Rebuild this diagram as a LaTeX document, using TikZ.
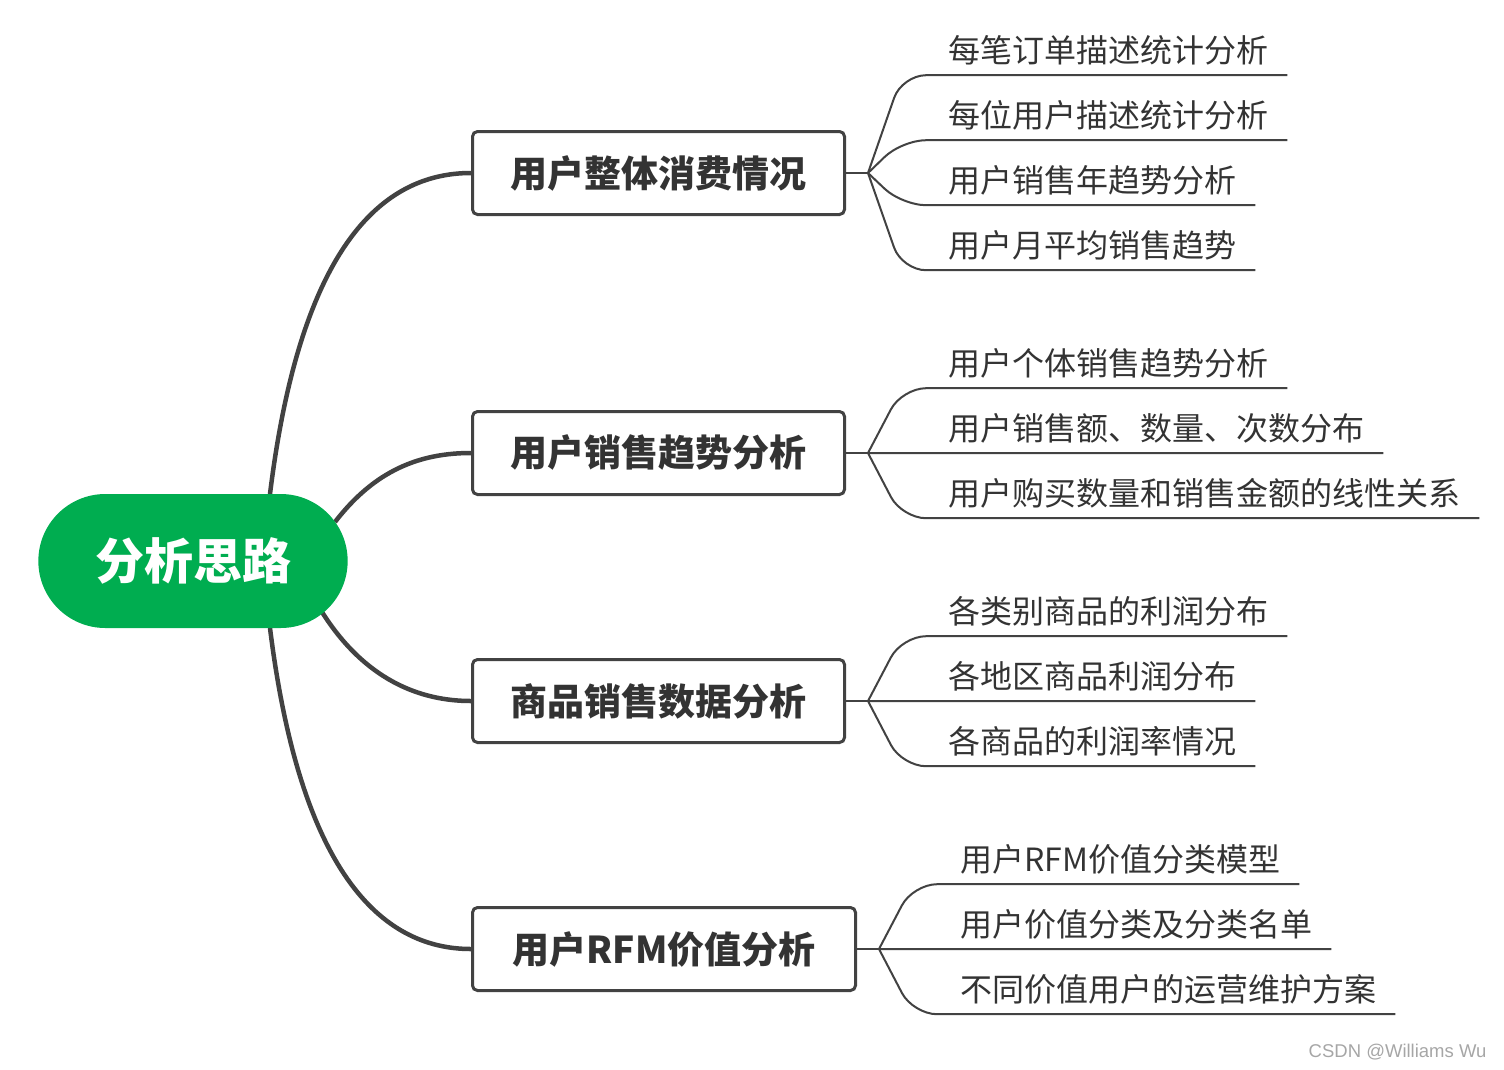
\documentclass[tikz,border=0pt]{standalone}
\usepackage{fontspec}
\setmainfont{Noto Sans CJK SC}
\newfontfamily\marksans{Liberation Sans}
\usepackage{xcolor}
\definecolor{rootgreen}{HTML}{00AD50}
\definecolor{linegray}{HTML}{424242}
\definecolor{textgray}{HTML}{333333}
\usepackage{tikz}
\usetikzlibrary{shapes.misc, calc, backgrounds}

\begin{document}
\begin{tikzpicture}[x=1pt, y=-1pt,
  root/.style={rounded rectangle, fill=rootgreen, text=white, minimum width=316pt,
    minimum height=134pt, font=\fontsize{49}{56}\selectfont\bfseries},
  topic/.style={draw=linegray, line width=3pt, rounded corners=5pt, fill=white,
    text=textgray, minimum height=83pt, font=\fontsize{37}{44}\selectfont\bfseries},
  leaf/.style={anchor=base west, inner xsep=19pt, inner ysep=0pt, text depth=13pt,
    text=textgray, font=\fontsize{32}{38}\selectfont},
  trunk/.style={draw=linegray, line width=4.5pt},
  twig/.style={draw=linegray, line width=2pt, rounded corners=24pt}]
  \useasboundingbox (0,0) rectangle (1504,1069);

  % centre and topics
  \node[root] (root) at (193,561) {分析思路};
  \node[topic, minimum width=372pt] (t1) at (658.5,173) {用户整体消费情况};
  \node[topic, minimum width=372pt] (t2) at (658.5,453) {用户销售趋势分析};
  \node[topic, minimum width=372pt] (t3) at (658.5,701) {商品销售数据分析};
  \node[topic, minimum width=383pt] (t4) at (664,949)   {用户RFM价值分析};

  % leaves
  \node[leaf] (l11) at (929,62)   {每笔订单描述统计分析};
  \node[leaf] (l12) at (929,127)  {每位用户描述统计分析};
  \node[leaf] (l13) at (929,192)  {用户销售年趋势分析};
  \node[leaf] (l14) at (929,257)  {用户月平均销售趋势};
  \node[leaf] (l21) at (929,375)  {用户个体销售趋势分析};
  \node[leaf] (l22) at (929,440)  {用户销售额、数量、次数分布};
  \node[leaf] (l23) at (929,505)  {用户购买数量和销售金额的线性关系};
  \node[leaf] (l31) at (929,623)  {各类别商品的利润分布};
  \node[leaf] (l32) at (929,688)  {各地区商品利润分布};
  \node[leaf] (l33) at (929,753)  {各商品的利润率情况};
  \node[leaf] (l41) at (941,871)  {用户RFM价值分类模型};
  \node[leaf] (l42) at (941,936)  {用户价值分类及分类名单};
  \node[leaf] (l43) at (941,1001) {不同价值用户的运营维护方案};

  % forks
  \foreach \t in {1,2,3,4} {
    \coordinate (f\t) at ($(t\t.east)+(22,0)$);
    \coordinate (k\t) at ($(f\t)+(34,0)$);
    \draw[twig] (t\t.east) -- (f\t);
  }
  \foreach \t/\l in {1/l11,1/l12,1/l13,1/l14,2/l21,2/l22,2/l23,
                     3/l31,3/l32,3/l33,4/l41,4/l42,4/l43}
    \draw[twig] (f\t) -- (k\t |- \l.south) -- (\l.south east);

  % trunks
  \begin{scope}[on background layer]
    \draw[trunk] ($(root.center)+(77,-67)$) .. controls +(30,-244) and +(-91,0) .. (t1.west);
    \draw[trunk] ($(root.center)+(142,-39)$) .. controls +(40,-52) and +(-51,0) .. (t2.west);
    \draw[trunk] ($(root.center)+(129,51)$) .. controls +(43,68) and +(-51,0) .. (t3.west);
    \draw[trunk] ($(root.center)+(77,67)$) .. controls +(30,242) and +(-91,0) .. (t4.west);
  \end{scope}

  \node[anchor=east, text=gray!70, font=\marksans\fontsize{18.5}{20}\selectfont] (mark)
    at (1490,1052) {CSDN @Williams Wu};
\end{tikzpicture}
\end{document}
